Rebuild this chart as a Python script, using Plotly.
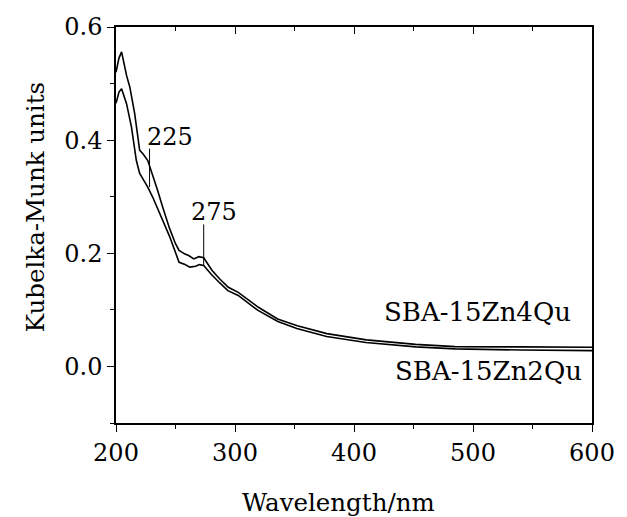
import plotly.graph_objects as go

# Data
wl_zn4 = [200, 202.5, 204.7, 206.5, 208.9, 211.6, 215.7, 219.9, 222.6, 226.7, 229.6, 235.0, 239.2,
          245, 250, 253, 257.6, 261, 265.4, 269.6, 273.7, 280.6, 287, 294.4, 302.7, 308, 319.3,
          335.8, 352.4, 377.2, 410.4, 451.8, 484.9, 540, 600]
km_zn4 = [0.520, 0.545, 0.556, 0.535, 0.514, 0.494, 0.447, 0.382, 0.376, 0.364, 0.346, 0.311, 0.282,
          0.244, 0.217, 0.205, 0.199, 0.196, 0.190, 0.194, 0.192, 0.170, 0.155, 0.140, 0.131, 0.1225, 0.105,
          0.084, 0.072, 0.058, 0.047, 0.039, 0.035, 0.0345, 0.034]

wl_zn2 = [200, 202.5, 204.7, 206.5, 208.9, 213.0, 217.1, 219.9, 226.7, 230.9, 239.2, 245, 250, 253,
          258, 262, 267, 270, 273.7, 280, 287, 294, 302.7, 308, 319, 336, 352, 377, 410, 452, 485, 540, 600]
km_zn2 = [0.465, 0.485, 0.491, 0.480, 0.464, 0.423, 0.364, 0.341, 0.317, 0.299, 0.258, 0.230, 0.2015, 0.184,
          0.180, 0.1755, 0.177, 0.180, 0.1785, 0.163, 0.148, 0.134, 0.1255, 0.117, 0.0995, 0.0795, 0.067,
          0.053, 0.0424, 0.0345, 0.031, 0.029, 0.028]

series_names = ["SBA-15Zn4Qu", "SBA-15Zn2Qu"]
peak_labels = ["225", "275"]
peak_x = [228.2, 273.7]
peak_y0 = [0.317, 0.1785]
peak_y1 = [0.385, 0.251]

x_ticks = [200, 300, 400, 500, 600]
y_ticks = [0.0, 0.2, 0.4, 0.6]
y_tick_text = ["0.0", "0.2", "0.4", "0.6"]

FONT = "DejaVu Serif"
FS_TICK = 24
FS_TITLE = 24.5
FS_LABEL = 26
BLACK = "black"

fig = go.Figure()
fig.add_trace(go.Scatter(x=wl_zn4, y=km_zn4, mode="lines", name=series_names[0],
                         line=dict(color=BLACK, width=1.6)))
fig.add_trace(go.Scatter(x=wl_zn2, y=km_zn2, mode="lines", name=series_names[1],
                         line=dict(color=BLACK, width=1.6)))
# invisible copy on the top axis so that its inward ticks are drawn
fig.add_trace(go.Scatter(x=wl_zn4, y=km_zn4, mode="lines", xaxis="x2", opacity=0,
                         line=dict(width=0), showlegend=False, hoverinfo="skip"))

label_shift = [-5, -15]
for lab, px, y0, y1, sh in zip(peak_labels, peak_x, peak_y0, peak_y1, label_shift):
    fig.add_shape(type="line", x0=px, x1=px, y0=y0, y1=y1, xref="x", yref="y",
                  line=dict(color=BLACK, width=1))
    fig.add_annotation(x=px, y=y1, text=lab, showarrow=False, xref="x", yref="y",
                       xanchor="left", yanchor="bottom", xshift=sh, yshift=-4,
                       font=dict(family=FONT, size=FS_TICK, color=BLACK))

fig.add_annotation(x=584, y=0.097, text=series_names[0], showarrow=False, xref="x", yref="y",
                   xanchor="right", yanchor="middle", font=dict(family=FONT, size=FS_LABEL, color=BLACK))
fig.add_annotation(x=593, y=-0.008, text=series_names[1], showarrow=False, xref="x", yref="y",
                   xanchor="right", yanchor="middle", font=dict(family=FONT, size=FS_LABEL, color=BLACK))

# axis titles
fig.add_annotation(x=0.467, y=-0.20, xref="paper", yref="paper", text="Wavelength/nm", showarrow=False,
                   xanchor="center", yanchor="middle", font=dict(family=FONT, size=FS_TITLE, color=BLACK))
fig.add_annotation(x=-0.17, y=0.545, xref="paper", yref="paper", text="Kubelka-Munk units", showarrow=False,
                   textangle=-90, xanchor="center", yanchor="middle",
                   font=dict(family=FONT, size=FS_TITLE, color=BLACK))

fig.update_layout(
    width=627, height=517,
    margin=dict(l=116, r=27, t=27, b=94),
    paper_bgcolor="white", plot_bgcolor="white",
    showlegend=False,
    font=dict(family=FONT, size=FS_TICK, color=BLACK),
    xaxis=dict(range=[200, 600], tickvals=x_ticks, ticks="outside", ticklen=7, tickwidth=1.3,
               tickcolor=BLACK, showline=True, linecolor=BLACK, linewidth=1.5, mirror=True,
               showgrid=False, zeroline=False, tickfont=dict(family=FONT, size=FS_TICK),
               minor=dict(dtick=50, ticks="outside", ticklen=4, tickwidth=1.2, tickcolor=BLACK)),
    xaxis2=dict(range=[200, 600], overlaying="x", side="top", tickvals=x_ticks, ticks="inside",
                ticklen=7, tickwidth=1.3, tickcolor=BLACK, showticklabels=False, showgrid=False,
                zeroline=False, showline=False,
                minor=dict(dtick=50, ticks="inside", ticklen=4, tickwidth=1.2, tickcolor=BLACK)),
    yaxis=dict(range=[-0.1, 0.6], tickvals=y_ticks, ticktext=y_tick_text,
               ticks="outside", ticklen=7, tickwidth=1.3, tickcolor=BLACK,
               showline=True, linecolor=BLACK, linewidth=1.5, mirror=True, showgrid=False,
               zeroline=False, tickfont=dict(family=FONT, size=FS_TICK),
               minor=dict(tickvals=[-0.1, 0.1, 0.3, 0.5], ticks="outside", ticklen=4, tickwidth=1.2,
                          tickcolor=BLACK)),
)

fig.write_html("out.html", config={"displayModeBar": False},
               post_script="document.body.style.margin='0';document.body.style.overflow='hidden';")
